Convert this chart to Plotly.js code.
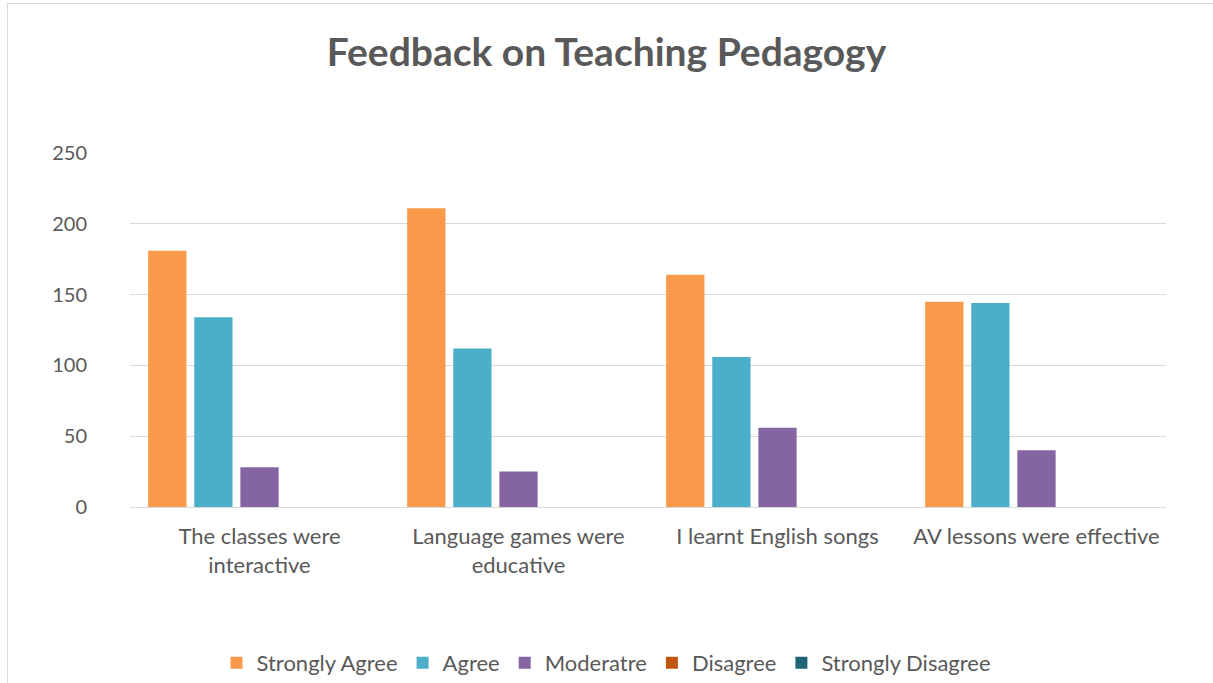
<!DOCTYPE html>
<html>
<head>
<meta charset="utf-8">
<script src="https://cdn.plot.ly/plotly-3.0.1.min.js"></script>
<style>
  body { margin: 0; background: #fff; }
  #frame {
    position: absolute; left: 7px; top: 3px; width: 1206px; height: 680px;
    border-left: 1px solid #d9d9d9; border-top: 1px solid #d9d9d9;
    pointer-events: none;
  }
  #plot { width: 1213px; height: 683px; }
</style>
</head>
<body>
<div id="plot"></div>
<div id="frame"></div>
<script>
// categories along the x axis
let statements = [
    "The classes were<br>interactive",
    "Language games were<br>educative",
    "I learnt English songs",
    "AV lessons were effective"
];

// one array per response level
let strongAgree = [181, 211, 164, 145];
let agree = [134, 112, 106, 144];
let moderate = [28, 25, 56, 40];
let disagree = [0, 0, 0, 0];
let strongDisagree = [0, 0, 0, 0];

let seriesNames = ["Strongly Agree", "Agree", "Moderatre", "Disagree", "Strongly Disagree"];
let seriesColors = ["#f89a4a", "#4bafc9", "#8464a3", "#c0560f", "#1f6576"];
let seriesValues = [strongAgree, agree, moderate, disagree, strongDisagree];

let data = seriesValues.map((vals, i) => ({
    x: statements,
    y: vals,
    name: seriesNames[i],
    type: "bar",
    marker: { color: seriesColors[i] },
    hoverinfo: "y+name"
}));

let layout = {
    title: {
        text: "<b>Feedback on Teaching Pedagogy</b>",
        font: { family: "Lato, sans-serif", size: 39, color: "#595959" },
        x: 0.5, xref: "container",
        y: 1 - 52 / 683, yref: "container", yanchor: "middle"
    },
    barmode: "group",
    bargap: 0.11,
    bargroupgap: 0.17,
    margin: { l: 130, r: 47, t: 152.5, b: 175.5 },
    paper_bgcolor: "#fff",
    plot_bgcolor: "#fff",
    font: { family: "Lato, sans-serif", color: "#595959" },
    xaxis: {
        showline: true,
        linecolor: "#d9d9d9",
        linewidth: 1,
        ticks: "",
        ticklabelstandoff: 10,
        tickfont: { size: 22, color: "#595959" },
        fixedrange: true
    },
    yaxis: {
        range: [0, 250],
        dtick: 50,
        gridcolor: "#d9d9d9",
        gridwidth: 1,
        zeroline: false,
        ticks: "",
        ticklabelstandoff: 42,
        tickfont: { size: 20, color: "#595959" },
        fixedrange: true
    },
    legend: {
        orientation: "h",
        xref: "container", x: 0.5, xanchor: "center",
        yref: "container", y: 1 - 663 / 683, yanchor: "middle",
        font: { size: 22, color: "#595959" },
        itemwidth: 30,
        traceorder: "normal"
    },
    showlegend: true
};

Plotly.newPlot("plot", data, layout, { displayModeBar: false, staticPlot: true });
</script>
</body>
</html>
